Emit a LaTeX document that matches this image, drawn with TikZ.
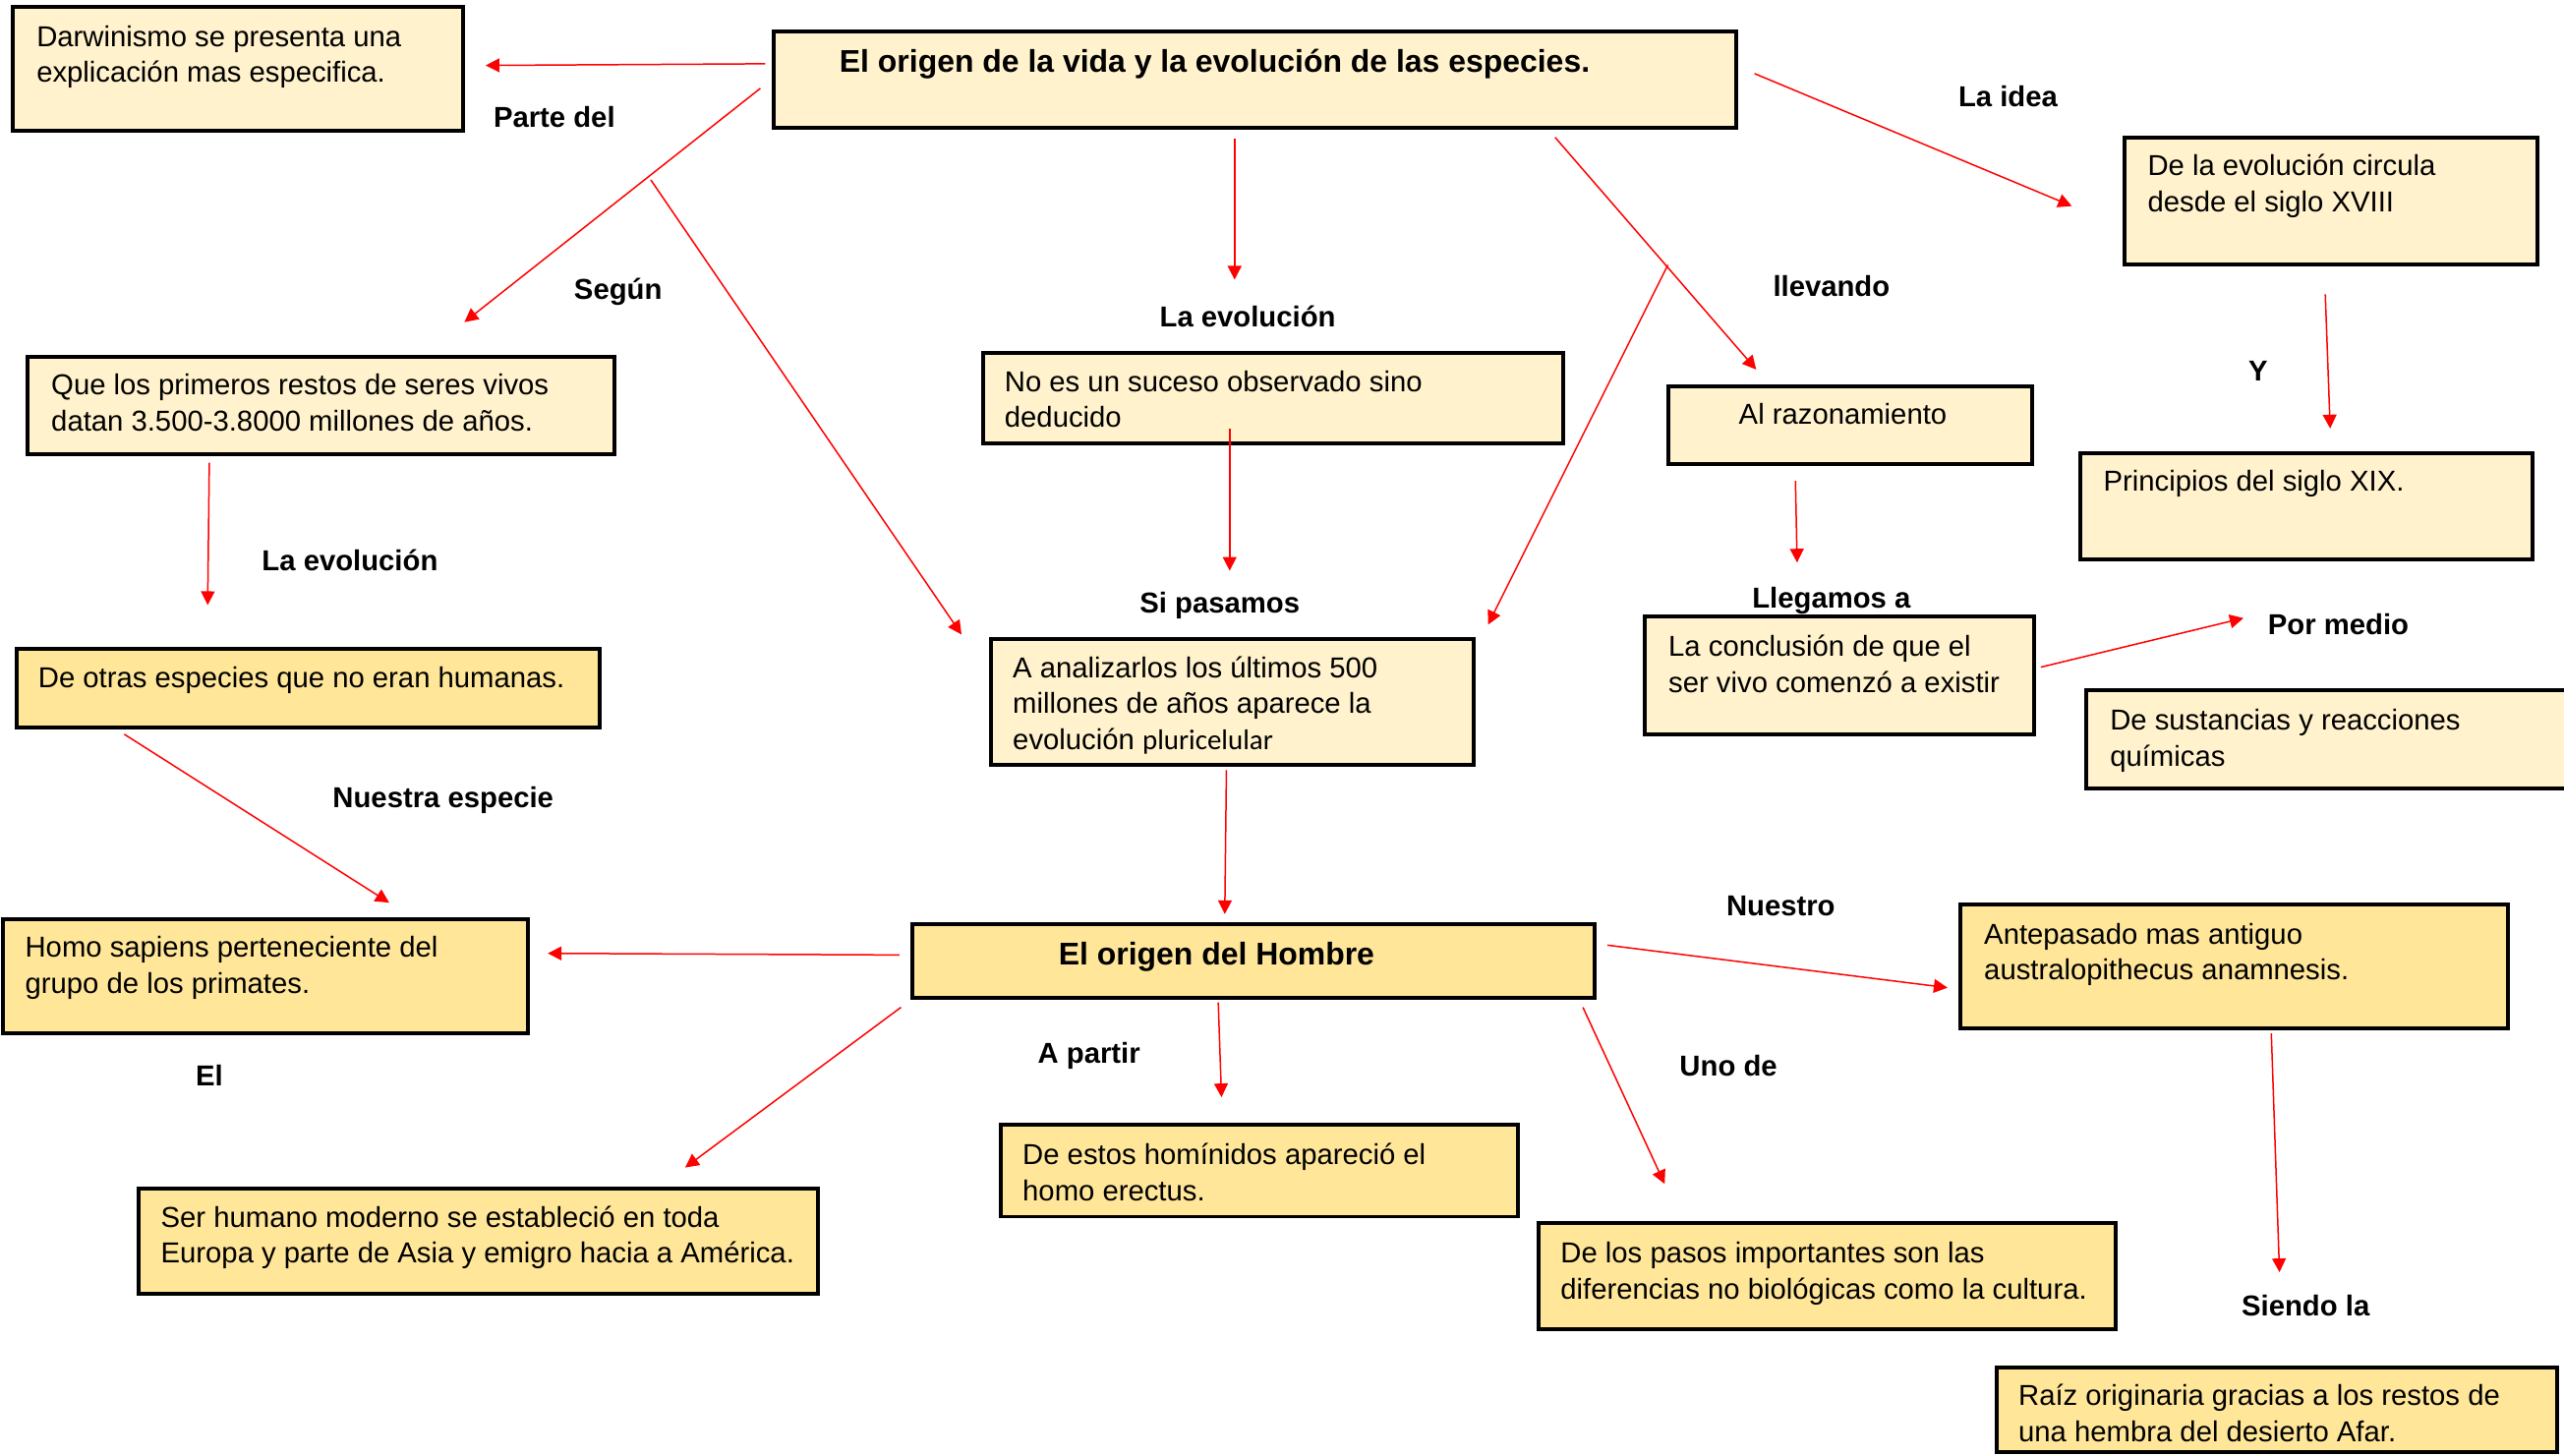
\documentclass[tikz,border=0pt]{standalone}
\usepackage{fontspec}
\setmainfont{Liberation Sans}
\newfontfamily\calib{Carlito}
\usetikzlibrary{arrows.meta}
\definecolor{lightc}{HTML}{FFF2CC}
\definecolor{darkc}{HTML}{FFE699}
\newcommand\fl{\rule{0pt}{11.5pt}}
\begin{document}
\begin{tikzpicture}[x=0.5pt,y=-0.5pt,
 boxl/.style={draw=black, line width=1.2pt, fill=lightc, inner sep=0pt, outer sep=0pt, anchor=north west, rectangle},
 boxd/.style={boxl, fill=darkc},
 txt/.style={anchor=north west, inner sep=0pt, align=left, font=\fontsize{8.8}{11}\selectfont},
 ttl/.style={anchor=base west, inner sep=0pt, font=\fontsize{9.6}{11.5}\selectfont\bfseries},
 lab/.style={anchor=base, inner sep=0pt, font=\fontsize{8.8}{11}\selectfont\bfseries},
 arr/.style={draw=red, line width=0.45pt, -{Triangle[length=4.2pt,width=4.2pt]}}]
\useasboundingbox[fill=white] (0,0) rectangle (1568,890);

% ---- boxes ----
\node[boxl, minimum width={(283-8)*0.5pt}, minimum height={(80-4)*0.5pt}] (bDar) at (8,4) {};
\node[txt] (tDar) at (22,5) {\fl Darwinismo se presenta una\\explicación mas especifica.};

\node[boxl, minimum width={(1062-473)*0.5pt}, minimum height={(78-19)*0.5pt}] (bTit) at (473,19) {};
\node[ttl] (tTit) at (513,44) {El origen de la vida y la evolución de las especies.};

\node[boxl, minimum width={(376-17)*0.5pt}, minimum height={(278-218)*0.5pt}] (bQue) at (17,218) {};
\node[txt] (tQue) at (31,218) {\fl Que los primeros restos de seres vivos\\datan 3.500-3.8000 millones de años.};

\node[boxl, minimum width={(956-601)*0.5pt}, minimum height={(271-216)*0.5pt}] (bNoes) at (601,216) {};
\node[txt] (tNoes) at (614,216) {\fl No es un suceso observado sino\\deducido};

\node[boxl, minimum width={(1243-1020)*0.5pt}, minimum height={(284-236)*0.5pt}] (bRaz) at (1020,236) {};
\node[txt] (tRaz) at (1063,236) {\fl Al razonamiento};

\node[boxl, minimum width={(1552-1299)*0.5pt}, minimum height={(162-84)*0.5pt}] (bCirc) at (1299,84) {};
\node[txt] (tCirc) at (1313,84) {\fl De la evolución circula\\desde el siglo XVIII};

\node[boxl, minimum width={(1549-1272)*0.5pt}, minimum height={(342-277)*0.5pt}] (bPrin) at (1272,277) {};
\node[txt] (tPrin) at (1286,277) {\fl Principios del siglo XIX.};

\node[boxd, minimum width={(367-10)*0.5pt}, minimum height={(445-397)*0.5pt}] (bOtras) at (10,397) {};
\node[txt] (tOtras) at (23,397) {\fl De otras especies que no eran humanas.};

\node[boxl, minimum width={(901-606)*0.5pt}, minimum height={(468-391)*0.5pt}] (bAnal) at (606,391) {};
\node[txt] (tAnal) at (619,391) {\fl A analizarlos los últimos 500\\millones de años aparece la\\evolución {\calib\fontsize{8.7}{11}\selectfont pluricelular}};

\node[boxl, minimum width={(1244-1006)*0.5pt}, minimum height={(449-377)*0.5pt}] (bConc) at (1006,377) {};
\node[txt] (tConc) at (1020,378) {\fl La conclusión de que el\\ser vivo comenzó a existir};

\node[boxl, minimum width={(1590-1276)*0.5pt}, minimum height={(482-422)*0.5pt}] (bSust) at (1276,422) {};
\node[txt] (tSust) at (1290,423) {\fl De sustancias y reacciones\\químicas};

\node[boxd, minimum width={(323-2)*0.5pt}, minimum height={(632-562)*0.5pt}] (bHomo) at (2,562) {};
\node[txt] (tHomo) at (15,562) {\fl Homo sapiens perteneciente del\\grupo de los primates.};

\node[boxd, minimum width={(975-558)*0.5pt}, minimum height={(610-565)*0.5pt}] (bHom) at (558,565) {};
\node[ttl] (tHom) at (647,590) {El origen del Hombre};

\node[boxd, minimum width={(1534-1199)*0.5pt}, minimum height={(629-553)*0.5pt}] (bAnte) at (1199,553) {};
\node[txt] (tAnte) at (1213,554) {\fl Antepasado mas antiguo\\australopithecus anamnesis.};

\node[boxd, minimum width={(500-85)*0.5pt}, minimum height={(791-727)*0.5pt}] (bSer) at (85,727) {};
\node[txt] (tSer) at (98,727) {\fl Ser humano moderno se estableció en toda\\Europa y parte de Asia y emigro hacia a América.};

\node[boxd, minimum width={(928-612)*0.5pt}, minimum height={(744-688)*0.5pt}] (bEst) at (612,688) {};
\node[txt] (tEst) at (625,689) {\fl De estos homínidos apareció el\\homo erectus.};

\node[boxd, minimum width={(1294-941)*0.5pt}, minimum height={(813-748)*0.5pt}] (bPas) at (941,748) {};
\node[txt] (tPas) at (954,749) {\fl De los pasos importantes son las\\diferencias no biológicas como la cultura.};

\node[boxd, minimum width={(1564-1221)*0.5pt}, minimum height={(888-836)*0.5pt}] (bRaiz) at (1221,836) {};
\node[txt] (tRaiz) at (1234,836) {\fl Raíz originaria gracias a los restos de\\una hembra del desierto Afar.};

% ---- labels ----
\node[lab] (lParte) at (339,78) {Parte del};
\node[lab] (lSegun) at (378,183) {Según};
\node[lab] (lEvo1) at (763,200) {La evolución};
\node[lab] (lIdea) at (1228,65) {La idea};
\node[lab] (lLlev) at (1120,181) {llevando};
\node[lab] (lY) at (1381,233) {Y};
\node[lab] (lEvo2) at (214,349) {La evolución};
\node[lab] (lSi) at (746,375) {Si pasamos};
\node[lab] (lLleg) at (1120,372) {Llegamos a};
\node[lab] (lPor) at (1430,388) {Por medio};
\node[lab] (lNesp) at (271,494) {Nuestra especie};
\node[lab] (lNuestro) at (1089,560) {Nuestro};
\node[lab] (lApartir) at (666,650) {A partir};
\node[lab] (lUno) at (1057,658) {Uno de};
\node[lab] (lEl) at (128,664) {El};
\node[lab] (lSiendo) at (1410,805) {Siendo la};

% ---- connector end points ----
\coordinate (s1) at (468,39);   \coordinate (e1) at (297,40);
\coordinate (s2) at (465,54);   \coordinate (e2) at (284,197);
\coordinate (s3) at (398,110);  \coordinate (e3) at (588,388);
\coordinate (s4) at (755,85);   \coordinate (e4) at (755,171);
\coordinate (s5) at (951,84);   \coordinate (e5) at (1074,226);
\coordinate (s6) at (1020,162); \coordinate (e6) at (910,382);
\coordinate (s7) at (1073,45);  \coordinate (e7) at (1267,126);
\coordinate (s8) at (1422,180); \coordinate (e8) at (1425,262);
\coordinate (s9) at (1098,294); \coordinate (e9) at (1099,344);
\coordinate (s10) at (1248,408); \coordinate (e10) at (1372,378);
\coordinate (s11) at (752,262); \coordinate (e11) at (752,349);
\coordinate (s12) at (128,283); \coordinate (e12) at (127,370);
\coordinate (s13) at (76,449);  \coordinate (e13) at (238,552);
\coordinate (s14) at (750,471); \coordinate (e14) at (749,559);
\coordinate (s15) at (550,584); \coordinate (e15) at (335,583);
\coordinate (s16) at (551,616); \coordinate (e16) at (419,714);
\coordinate (s17) at (745,613); \coordinate (e17) at (747,671);
\coordinate (s18) at (968,616); \coordinate (e18) at (1018,724);
\coordinate (s19) at (983,578); \coordinate (e19) at (1191,604);
\coordinate (s20) at (1389,632); \coordinate (e20) at (1394,778);

\foreach \i in {1,...,20} { \draw[arr] (s\i) -- (e\i); }
\end{tikzpicture}
\end{document}
